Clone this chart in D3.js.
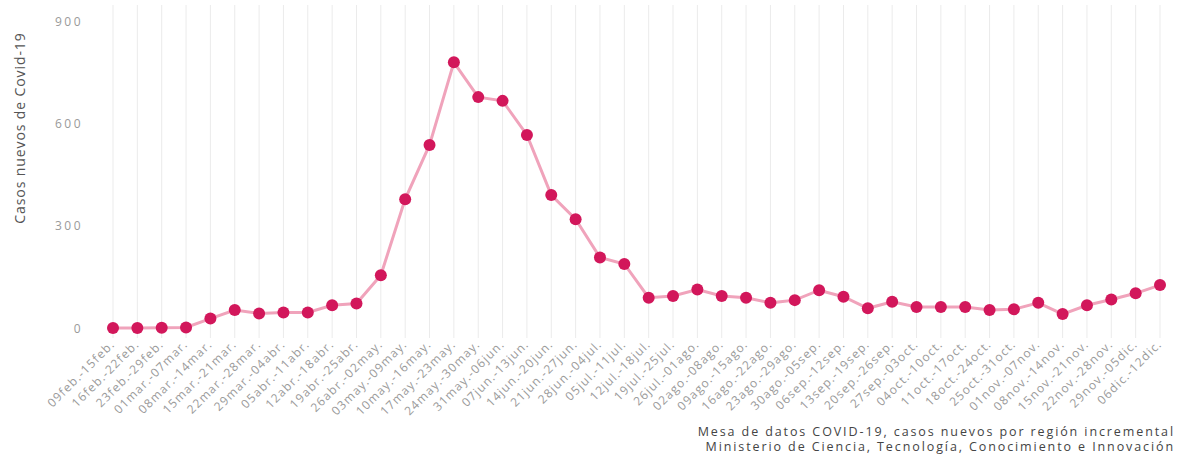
<!DOCTYPE html>
<html>
<head>
<meta charset="utf-8">
<script src="https://cdn.jsdelivr.net/npm/d3@7"></script>
<style>
  html, body { margin: 0; padding: 0; background: #fff; }
  svg { display: block; font-family: "Open Sans", sans-serif; }
</style>
</head>
<body>
<svg id="chart" width="1179" height="457"></svg>
<script>
const weeks = [
  "09feb.-15feb.", "16feb.-22feb.", "23feb.-29feb.", "01mar.-07mar.", "08mar.-14mar.",
  "15mar.-21mar.", "22mar.-28mar.", "29mar.-04abr.", "05abr.-11abr.", "12abr.-18abr.",
  "19abr.-25abr.", "26abr.-02may.", "03may.-09may.", "10may.-16may.", "17may.-23may.",
  "24may.-30may.", "31may.-06jun.", "07jun.-13jun.", "14jun.-20jun.", "21jun.-27jun.",
  "28jun.-04jul.", "05jul.-11jul.", "12jul.-18jul.", "19jul.-25jul.", "26jul.-01ago.",
  "02ago.-08ago.", "09ago.-15ago.", "16ago.-22ago.", "23ago.-29ago.", "30ago.-05sep.",
  "06sep.-12sep.", "13sep.-19sep.", "20sep.-26sep.", "27sep.-03oct.", "04oct.-10oct.",
  "11oct.-17oct.", "18oct.-24oct.", "25oct.-31oct.", "01nov.-07nov.", "08nov.-14nov.",
  "15nov.-21nov.", "22nov.-28nov.", "29nov.-05dic.", "06dic.-12dic."
];
const newCases = [
  1, 1, 2, 3, 29, 54, 44, 47, 47, 68,
  73, 156, 379, 538, 780, 678, 667, 567, 391, 320,
  208, 189, 90, 95, 114, 95, 90, 75, 83, 112,
  93, 59, 78, 63, 63, 63, 54, 56, 75, 42,
  68, 85, 103, 127
];
const yTicks = [0, 300, 600, 900];
const yTitle = "Casos nuevos de Covid-19";
const sourceLines = [
  "Mesa de datos COVID-19, casos nuevos por región incremental",
  "Ministerio de Ciencia, Tecnología, Conocimiento e Innovación"
];

const svg = d3.select("#chart");
const x = d3.scalePoint().domain(weeks).range([113, 1160]);
const y = d3.scaleLinear().domain([-28, 948]).range([338, 5]);

// vertical gridlines
svg.append("g").selectAll("line").data(weeks).join("line")
  .attr("x1", d => x(d)).attr("x2", d => x(d))
  .attr("y1", y(948)).attr("y2", y(-28))
  .attr("stroke", "#ebebeb").attr("stroke-width", 1);

// x axis
const xAxis = svg.append("g")
  .attr("transform", `translate(0,${y(-28) + 3})`)
  .call(d3.axisBottom(x).tickSize(0).tickPadding(0));
xAxis.select(".domain").remove();
xAxis.selectAll("text")
  .attr("fill", "#9a9a9a")
  .attr("font-size", "12px")
  .attr("letter-spacing", "1.2px")
  .attr("font-family", "Open Sans, sans-serif")
  .attr("text-anchor", "end")
  .attr("dy", "0.35em")
  .attr("dx", "-0.1em")
  .attr("transform", "rotate(-45)");

// y axis
const yAxis = svg.append("g")
  .attr("transform", `translate(83,0)`)
  .call(d3.axisLeft(y).tickValues(yTicks).tickSize(0).tickPadding(0));
yAxis.select(".domain").remove();
yAxis.selectAll("text")
  .attr("fill", "#9a9a9a")
  .attr("font-size", "12px")
  .attr("letter-spacing", "2.5px")
  .attr("font-family", "Open Sans, sans-serif");

// y title
svg.append("text")
  .attr("transform", `translate(20,128) rotate(-90)`)
  .attr("text-anchor", "middle")
  .attr("dy", "0.35em")
  .attr("fill", "#555")
  .attr("font-size", "14px")
  .attr("letter-spacing", "0.9px")
  .text(yTitle);

// line
svg.append("path")
  .datum(newCases)
  .attr("fill", "none")
  .attr("stroke", "#f0a3bb")
  .attr("stroke-width", 3)
  .attr("d", d3.line().x((d, i) => x(weeks[i])).y(d => y(d)));

// markers
svg.append("g").selectAll("circle").data(newCases).join("circle")
  .attr("cx", (d, i) => x(weeks[i]))
  .attr("cy", d => y(d))
  .attr("r", 6)
  .attr("fill", "#d2175b");

// source
svg.append("g").selectAll("text").data(sourceLines).join("text")
  .attr("x", 1175)
  .attr("y", (d, i) => 436 + i * 15)
  .attr("text-anchor", "end")
  .attr("fill", "#444")
  .attr("font-size", "12.5px")
  .attr("letter-spacing", "1.9px")
  .text(d => d);
</script>
</body>
</html>
